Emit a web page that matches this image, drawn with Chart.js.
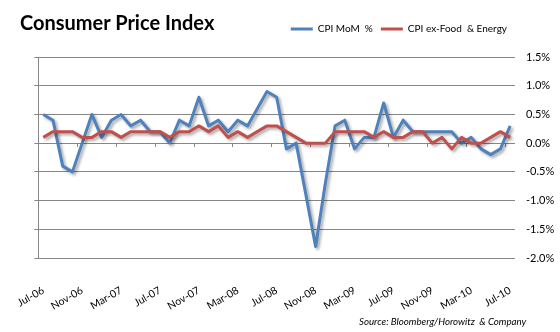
<!DOCTYPE html>
<html>
<head>
<meta charset="utf-8">
<script src="https://cdn.jsdelivr.net/npm/chart.js@4.4.0/dist/chart.umd.min.js"></script>
<style>
  body { margin: 0; background: #fff; }
  #wrap { position: relative; width: 560px; height: 332px; }
  #title { position: absolute; left: 20px; top: 10px; font: bold 20px Lato, sans-serif; color: #000; }
  #source { position: absolute; left: 359px; top: 315px; font: italic 9.7px Lato, sans-serif; color: #000; }
</style>
</head>
<body>
<div id="wrap">
  <canvas id="cpiChart" width="560" height="332"></canvas>
  <div id="title">Consumer Price Index</div>
  <div id="source">Source: Bloomberg/Horowitz &nbsp;&amp; Company</div>
</div>
<script>
// monthly, Jul-06 .. Jul-10
const months = [
  'Jul-06', 'Aug-06', 'Sep-06', 'Oct-06', 'Nov-06', 'Dec-06',
  'Jan-07', 'Feb-07', 'Mar-07', 'Apr-07', 'May-07', 'Jun-07',
  'Jul-07', 'Aug-07', 'Sep-07', 'Oct-07', 'Nov-07', 'Dec-07',
  'Jan-08', 'Feb-08', 'Mar-08', 'Apr-08', 'May-08', 'Jun-08',
  'Jul-08', 'Aug-08', 'Sep-08', 'Oct-08', 'Nov-08', 'Dec-08',
  'Jan-09', 'Feb-09', 'Mar-09', 'Apr-09', 'May-09', 'Jun-09',
  'Jul-09', 'Aug-09', 'Sep-09', 'Oct-09', 'Nov-09', 'Dec-09',
  'Jan-10', 'Feb-10', 'Mar-10', 'Apr-10', 'May-10', 'Jun-10',
  'Jul-10'
];

const cpiMoM = [
  0.5, 0.4, -0.4, -0.5, 0.0, 0.5,
  0.1, 0.4, 0.5, 0.3, 0.4, 0.2,
  0.2, 0.0, 0.4, 0.3, 0.8, 0.3,
  0.4, 0.2, 0.4, 0.3, 0.6, 0.9,
  0.8, -0.1, 0.0, -0.9, -1.8, -0.7,
  0.3, 0.4, -0.1, 0.1, 0.1, 0.7,
  0.1, 0.4, 0.2, 0.2, 0.2, 0.2,
  0.2, 0.0, 0.1, -0.1, -0.2, -0.1,
  0.3
];

const cpiCore = [
  0.1, 0.2, 0.2, 0.2, 0.1, 0.1,
  0.2, 0.2, 0.1, 0.2, 0.2, 0.2,
  0.2, 0.1, 0.2, 0.2, 0.3, 0.2,
  0.3, 0.1, 0.2, 0.1, 0.2, 0.3,
  0.3, 0.2, 0.1, 0.0, 0.0, 0.0,
  0.2, 0.2, 0.2, 0.2, 0.1, 0.2,
  0.1, 0.1, 0.2, 0.2, 0.0, 0.1,
  -0.1, 0.1, 0.0, 0.0, 0.1, 0.2,
  0.1
];

const yTicks = [1.5, 1.0, 0.5, 0.0, -0.5, -1.0, -1.5, -2.0];

const gridColor = '#868686';

// soft drop shadow under the two lines, like the Excel original
const lineShadow = {
    id: 'lineShadow',
    beforeDatasetsDraw(chart) {
        const ctx = chart.ctx;
        ctx.save();
        ctx.shadowColor = 'rgba(0, 0, 0, 0.35)';
        ctx.shadowBlur = 3;
        ctx.shadowOffsetX = 2;
        ctx.shadowOffsetY = 2;
    },
    afterDatasetsDraw(chart) {
        chart.ctx.restore();
    }
};

document.addEventListener("DOMContentLoaded", function() {
    var ctx = document.getElementById('cpiChart').getContext('2d');
    var config = {
        type: 'line',
        data: {
            labels: months,
            datasets: [{
                label: 'CPI MoM  %',
                data: cpiMoM,
                borderColor: '#4F81BD',
                backgroundColor: '#4F81BD',
                borderWidth: 3,
                pointRadius: 0,
                tension: 0,
                borderJoinStyle: 'round',
                order: 1
            }, {
                label: 'CPI ex-Food  & Energy',
                data: cpiCore,
                borderColor: '#C0504D',
                backgroundColor: '#C0504D',
                borderWidth: 3,
                pointRadius: 0,
                tension: 0,
                borderJoinStyle: 'round',
                order: 0
            }]
        },
        options: {
            responsive: false,
            animation: false,
            layout: { padding: { top: 16, bottom: 19, left: 0, right: 0 } },
            font: { family: 'Lato, sans-serif' },
            plugins: {
                legend: {
                    position: 'top',
                    align: 'end',
                    fullSize: false,
                    labels: {
                        usePointStyle: true,
                        pointStyle: 'line',
                        pointStyleWidth: 22,
                        padding: 8,
                        color: '#000',
                        font: { family: 'Lato, sans-serif', size: 10 },
                        sort: (a, b) => a.datasetIndex - b.datasetIndex
                    }
                },
                // empty title only used as a gap between legend and plot
                title: {
                    display: true,
                    text: '',
                    weight: 500,
                    padding: 0,
                    font: { size: 13, lineHeight: 1 }
                },
                tooltip: { enabled: false }
            },
            scales: {
                x: {
                    type: 'category',
                    position: 'bottom',
                    offset: true,
                    grid: { display: false },
                    border: { display: false },
                    ticks: {
                        autoSkip: false,
                        minRotation: 30,
                        maxRotation: 30,
                        padding: 18,
                        color: '#000',
                        font: { family: 'Lato, sans-serif', size: 10.5 },
                        callback: function(value, index) {
                            return index % 4 === 0 ? this.getLabelForValue(value) : '';
                        }
                    },
                    afterFit: function(scale) { scale.height = 55; }
                },
                // category axis crossing at 0 -> only its tick marks are shown
                xZero: {
                    type: 'category',
                    position: { y: 0 },
                    offset: true,
                    grid: {
                        offset: true,
                        drawOnChartArea: false,
                        drawTicks: true,
                        tickLength: 4,
                        tickColor: c => c.index % 4 === 0 ? gridColor : 'rgba(0,0,0,0)'
                    },
                    border: { display: false },
                    ticks: { display: false }
                },
                y: {
                    position: 'right',
                    min: yTicks[yTicks.length - 1],
                    max: yTicks[0],
                    grid: { color: gridColor, drawTicks: false },
                    border: { display: false },
                    ticks: {
                        stepSize: 0.5,
                        padding: 11,
                        color: '#000',
                        font: { family: 'Lato, sans-serif', size: 11 },
                        callback: v => v.toFixed(1) + '%'
                    },
                    afterFit: function(scale) { scale.width = 45; }
                },
                yLine: {
                    position: 'left',
                    min: yTicks[yTicks.length - 1],
                    max: yTicks[0],
                    grid: { drawOnChartArea: false, drawTicks: true, tickLength: 4, tickColor: gridColor },
                    border: { display: true, color: gridColor },
                    ticks: { display: false, stepSize: 0.5 },
                    afterFit: function(scale) { scale.width = 24; }
                }
            }
        },
        plugins: [lineShadow]
    };

    var cpiChart = new Chart(ctx, config);
});
</script>
</body>
</html>
